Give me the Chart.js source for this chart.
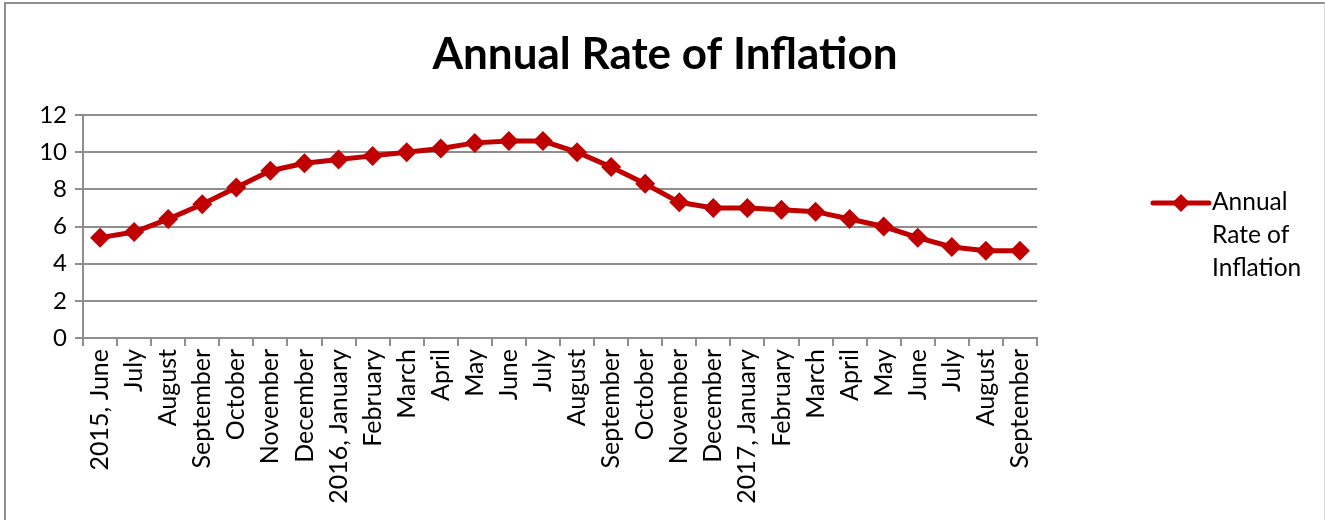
<!DOCTYPE html>
<html>
<head>
<meta charset="utf-8">
<script src="https://cdn.jsdelivr.net/npm/chart.js@4.4.1/dist/chart.umd.min.js"></script>
<style>
  html, body { margin: 0; padding: 0; background: #fff; }
  #wrap { position: relative; width: 1325px; height: 520px; }
  #frame {
    position: absolute; left: 4px; top: 2px; right: 0; bottom: -4px;
    border-left: 2px solid #8e8e8e; border-top: 2px solid #8e8e8e; border-right: 1px solid #d9d9d9;
    pointer-events: none;
  }
  canvas { position: absolute; left: 0; top: 0; }
</style>
</head>
<body>
<div id="wrap">
  <canvas id="chart" width="1325" height="520"></canvas>
  <div id="frame"></div>
</div>
<script>
// ─── DATA ───────────────────────────────────────────────
const months = [
  '2015, June', 'July', 'August', 'September', 'October', 'November', 'December',
  '2016, January', 'February', 'March', 'April', 'May', 'June', 'July', 'August',
  'September', 'October', 'November', 'December',
  '2017, January', 'February', 'March', 'April', 'May', 'June', 'July', 'August', 'September'
];
const inflation = [
  5.4, 5.7, 6.4, 7.2, 8.1, 9.0, 9.4,
  9.6, 9.8, 10.0, 10.2, 10.5, 10.6, 10.6, 10.0,
  9.2, 8.3, 7.3, 7.0,
  7.0, 6.9, 6.8, 6.4, 6.0, 5.4, 4.9, 4.7, 4.7
];
const seriesName = 'Annual Rate of Inflation';
const legendLines = ['Annual', 'Rate of', 'Inflation'];

const RED = '#C00000';
const GRID = '#8e8e8e';
const FONT = "Lato, 'Open Sans', sans-serif";

// ─── TITLE (centred on the whole canvas) ─────────────────
const pageTitle = {
  id: 'pageTitle',
  afterDraw(chart) {
    const c = chart.ctx;
    c.save();
    c.fillStyle = '#000';
    c.font = 'bold 44px ' + FONT;
    c.textAlign = 'center';
    c.textBaseline = 'middle';
    c.fillText(seriesName, 665, 55);
    c.restore();
  }
};

// ─── LEGEND (wrapped, drawn on canvas) ───────────────────
const wrappedLegend = {
  id: 'wrappedLegend',
  afterDraw(chart) {
    const c = chart.ctx;
    const x0 = 1153, x1 = 1209, y = 203;
    c.save();
    c.strokeStyle = RED;
    c.lineWidth = 5;
    c.lineCap = 'round';
    c.beginPath(); c.moveTo(x0, y); c.lineTo(x1, y); c.stroke();
    c.fillStyle = RED;
    const cx = (x0 + x1) / 2, r = 9;
    c.beginPath();
    c.moveTo(cx, y - r); c.lineTo(cx + r, y); c.lineTo(cx, y + r); c.lineTo(cx - r, y);
    c.closePath(); c.fill();
    c.fillStyle = '#000';
    c.font = '24.5px ' + FONT;
    c.textBaseline = 'middle';
    legendLines.forEach((t, i) => c.fillText(t, 1212, 202 + i * 33));
    c.restore();
  }
};

new Chart(document.getElementById('chart'), {
  type: 'line',
  data: {
    labels: months,
    datasets: [{
      label: seriesName,
      data: inflation,
      borderColor: RED,
      backgroundColor: RED,
      borderWidth: 5,
      tension: 0,
      pointStyle: 'rectRot',
      pointRadius: 10,
      pointHoverRadius: 10,
      pointBorderWidth: 0,
    }],
  },
  options: {
    responsive: false,
    animation: false,
    events: [],
    layout: { padding: { left: 0, right: 288, top: 115, bottom: 0 } },
    plugins: {
      legend: { display: false },
      tooltip: { enabled: false },
      title: { display: false },
    },
    scales: {
      x: {
        offset: true,
        grid: { offset: true, drawOnChartArea: false, drawTicks: true, tickLength: 8, tickColor: GRID, lineWidth: 2 },
        border: { color: GRID, width: 2 },
        ticks: {
          color: '#000', font: { family: FONT, size: 25 },
          maxRotation: 90, minRotation: 90, autoSkip: false, padding: 3,
        },
        afterFit: (s) => { s.height = 182; },
      },
      y: {
        min: 0, max: 12,
        grid: { color: GRID, lineWidth: 2, tickLength: 8, tickColor: GRID },
        border: { color: GRID, width: 2 },
        ticks: { stepSize: 2, color: '#000', font: { family: FONT, size: 24 }, padding: 8 },
        afterFit: (s) => { s.width = 83; },
      },
    },
  },
  plugins: [pageTitle, wrappedLegend],
});
</script>
</body>
</html>
